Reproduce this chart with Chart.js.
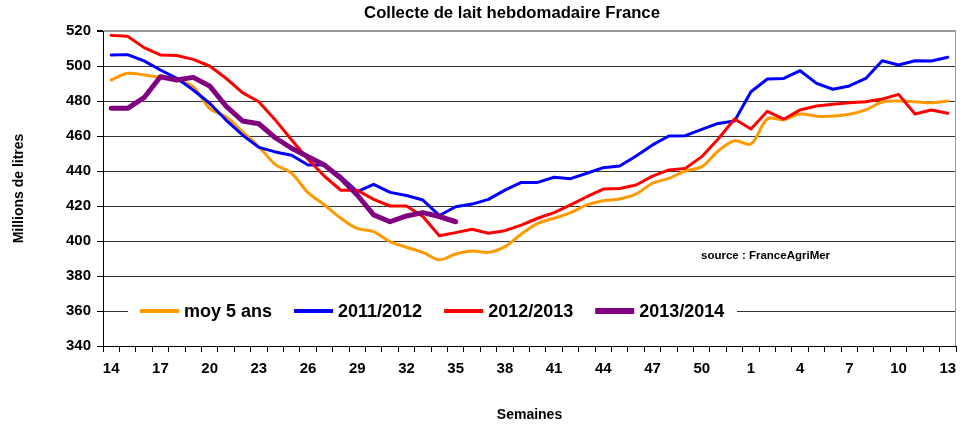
<!DOCTYPE html>
<html>
<head>
<meta charset="utf-8">
<script src="https://cdn.jsdelivr.net/npm/chart.js@4/dist/chart.umd.min.js"></script>
<style>
  html, body { margin: 0; padding: 0; background: #fff; }
</style>
</head>
<body>
<canvas id="milkChart" width="960" height="427"></canvas>
<script>
// weeks 14 -> 52, then 1 -> 13
const weeks = [14, 15, 16, 17, 18, 19, 20, 21, 22, 23, 24, 25, 26, 27, 28, 29, 30, 31, 32, 33,
  34, 35, 36, 37, 38, 39, 40, 41, 42, 43, 44, 45, 46, 47, 48, 49, 50, 51, 52,
  1, 2, 3, 4, 5, 6, 7, 8, 9, 10, 11, 12, 13];

const moy5ans = [492, 495.8, 494.9, 493.5, 492, 488.2, 475.8, 471, 462.5, 453.9, 443.8, 438.7, 427.6,
  420.6, 413, 407.2, 405.3, 399.6, 396.4, 393.5, 389.3, 392.6, 394.3, 393.5, 396.8, 404, 410.1,
  413, 416.2, 420.6, 423, 424, 426.9, 433, 435.8, 440, 442.5, 451.4, 457.3,
  455.4, 469.7, 469.4, 472.6, 471.3, 471.4, 472.4, 474.9, 479.4, 480, 479.6, 479, 480];

const y2011 = [506.3, 506.5, 502.9, 497.7, 493, 486.3, 478.7, 469.1, 460.6, 453.5, 450.9, 449, 443.4,
  443.4, 436.8, 428.2, 432.4, 427.8, 426, 423.4, 414.6, 419.6, 421.1, 423.8, 429.1, 433.5, 433.5,
  436.4, 435.6, 438.7, 441.9, 442.9, 448.6, 454.9, 460, 460.2, 463.8, 467.2, 468.6,
  485.3, 492.6, 492.9, 497.3, 490.1, 486.7, 488.6, 492.9, 503, 500.6, 503, 502.9, 505];

const y2012 = [517.5, 517, 510.5, 506.3, 506, 503.8, 500, 493, 484.8, 479.6, 469.2, 457.7, 446.7,
  437, 429, 429, 423.8, 420, 420, 414, 403, 404.8, 406.7, 404.4, 405.9, 409.1, 413,
  416.2, 420.6, 425.3, 429.7, 430, 432, 437.1, 440.6, 441.5, 448.2, 458.3, 469.7,
  464, 474.1, 469.6, 474.9, 477.1, 478.1, 479, 479.6, 481.1, 483.8, 472.6, 474.9, 473];

const y2013 = [475.8, 475.8, 481.9, 493.9, 492, 493.5, 488.6, 477.1, 468.6, 467, 459, 453, 448.2,
  443.4, 435.8, 426.3, 414.9, 411, 414.3, 416.2, 414, 411];

const FONT = "Arial, 'Liberation Sans', sans-serif";

// title, source note, right border and the boxed legend sitting on the 360 line
const extras = {
  id: 'extras',
  afterDatasetsDraw(chart) {
    const ctx = chart.ctx;
    const area = chart.chartArea;
    ctx.save();
    ctx.strokeStyle = '#9a9a9a';
    ctx.lineWidth = 1;
    ctx.beginPath();
    ctx.moveTo(area.right - 0.5, area.top);
    ctx.lineTo(area.right - 0.5, area.bottom);
    ctx.stroke();

    // legend
    const yScale = chart.scales.y;
    const ly = Math.round(yScale.getPixelForValue(360));
    ctx.fillStyle = '#fff';
    ctx.fillRect(128, ly - 11, 609, 22);
    ctx.font = 'bold 18px ' + FONT;
    ctx.textBaseline = 'middle';
    let x = 140;
    chart.data.datasets.forEach(ds => {
      ctx.strokeStyle = ds.borderColor;
      ctx.lineWidth = ds.borderWidth + 1;
      ctx.beginPath();
      ctx.moveTo(x, ly);
      ctx.lineTo(x + 39, ly);
      ctx.stroke();
      ctx.fillStyle = '#000';
      ctx.textAlign = 'left';
      ctx.fillText(ds.label, x + 44, ly + 1);
      x += 44 + ctx.measureText(ds.label).width + 22;
    });

    ctx.font = 'bold 11.5px ' + FONT;
    ctx.fillText('source : FranceAgriMer', 701, 256);

    ctx.font = 'bold 16.7px ' + FONT;
    ctx.textAlign = 'center';
    ctx.fillText('Collecte de lait hebdomadaire France', 512, 13);
    ctx.restore();
  }
};

const tickFont = { family: FONT, size: 15, weight: 'bold' };
const titleFont = { family: FONT, size: 14, weight: 'bold' };

new Chart(document.getElementById('milkChart').getContext('2d'), {
  type: 'line',
  data: {
    labels: weeks,
    datasets: [
      { label: 'moy 5 ans', data: moy5ans, borderColor: '#FF9900', borderWidth: 3, tension: 0.35, order: 3 },
      { label: '2011/2012', data: y2011, borderColor: '#0000FF', borderWidth: 3, tension: 0, order: 2 },
      { label: '2012/2013', data: y2012, borderColor: '#FF0000', borderWidth: 3, tension: 0, order: 1 },
      { label: '2013/2014', data: y2013, borderColor: '#800080', borderWidth: 5, tension: 0, order: 0 }
    ]
  },
  options: {
    responsive: false,
    animation: false,
    layout: { padding: { top: 31, right: 4, left: 0, bottom: 0 } },
    elements: {
      point: { radius: 0, hoverRadius: 0 },
      line: { borderCapStyle: 'round', borderJoinStyle: 'round' }
    },
    plugins: {
      legend: { display: false },
      title: { display: false },
      tooltip: { enabled: false }
    },
    scales: {
      x: {
        offset: true,
        grid: { offset: true, drawOnChartArea: false, drawTicks: true, tickLength: 6, color: '#000' },
        border: { color: '#000', width: 1 },
        ticks: {
          autoSkip: false,
          maxRotation: 0,
          padding: 8,
          color: '#000',
          font: tickFont,
          callback: function (val, i) {
            return i % 3 === 0 ? this.getLabelForValue(val) : '';
          }
        },
        title: { display: true, text: 'Semaines', color: '#000', font: titleFont, padding: { top: 0, bottom: 3 } },
        afterFit: (s) => {
          s.height = 81;
          s.paddingLeft = 0;
          s.paddingRight = 0;
        }
      },
      y: {
        min: 340,
        max: 520,
        ticks: { stepSize: 20, padding: 6, color: '#000', font: tickFont },
        grid: {
          color: (c) => (c.tick && c.tick.value === 520 ? '#9a9a9a' : '#333'),
          lineWidth: (c) => (c.tick && c.tick.value === 520 ? 2 : 1),
          tickColor: '#000',
          tickLength: 6
        },
        border: { color: '#000', width: 1 },
        title: { display: true, text: 'Millions de litres', color: '#000', font: titleFont, padding: { top: 11, bottom: 0 } },
        afterFit: (s) => { s.width = 103; }
      }
    }
  },
  plugins: [extras]
});
</script>
</body>
</html>
